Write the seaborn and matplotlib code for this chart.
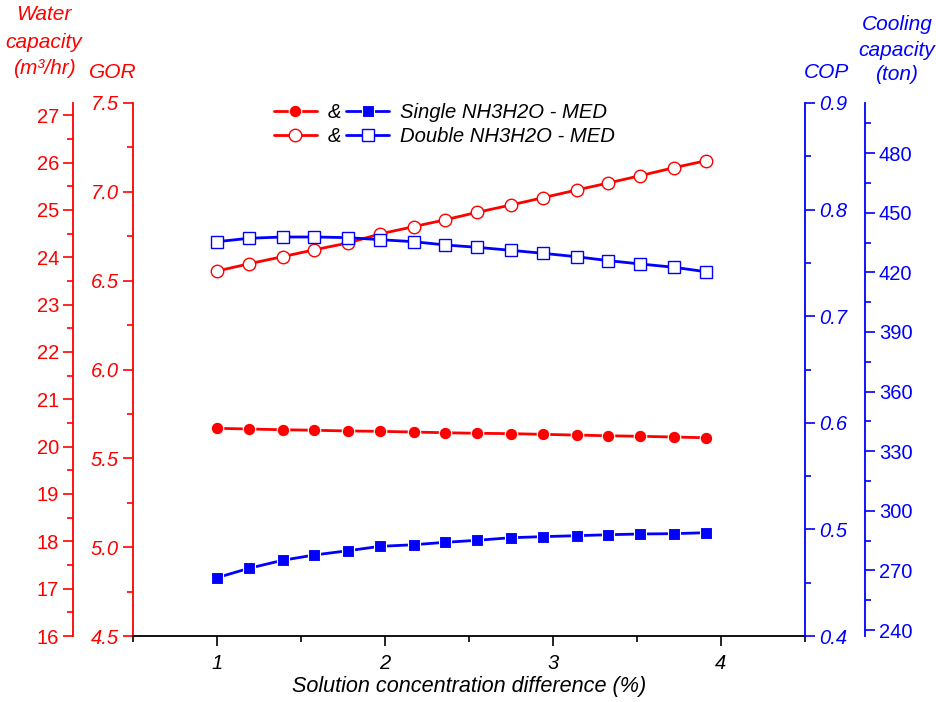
import matplotlib
matplotlib.use("Agg")
import matplotlib.pyplot as plt
import seaborn as sns
import pandas as pd
from matplotlib.ticker import MultipleLocator, FormatStrFormatter, FixedLocator

# ---------------- data ----------------
conc_diff = [1.00, 1.19, 1.39, 1.58, 1.78, 1.97, 2.17, 2.36,
             2.55, 2.75, 2.94, 3.14, 3.33, 3.52, 3.72, 3.91]
gor_single = [5.669, 5.665, 5.661, 5.658, 5.654, 5.652, 5.648, 5.644,
              5.641, 5.639, 5.635, 5.631, 5.627, 5.624, 5.620, 5.616]
gor_double = [6.554, 6.595, 6.635, 6.674, 6.712, 6.763, 6.804, 6.843,
              6.885, 6.926, 6.967, 7.010, 7.050, 7.091, 7.136, 7.175]
cop_single = [0.4547, 0.4635, 0.4710, 0.4760, 0.4800, 0.4841, 0.4856, 0.4879,
              0.4898, 0.4922, 0.4932, 0.4941, 0.4950, 0.4957, 0.4960, 0.4969]
cop_double = [0.7699, 0.7731, 0.7743, 0.7743, 0.7737, 0.7718, 0.7699, 0.7668,
              0.7646, 0.7618, 0.7590, 0.7558, 0.7521, 0.7490, 0.7459, 0.7417]

x_ticks = [1, 2, 3, 4]
water_ticks = [16, 17, 18, 19, 20, 21, 22, 23, 24, 25, 26, 27]
gor_ticks = [4.5, 5.0, 5.5, 6.0, 6.5, 7.0, 7.5]
cop_ticks = [0.4, 0.5, 0.6, 0.7, 0.8, 0.9]
cool_ticks = [240, 270, 300, 330, 360, 390, 420, 450, 480]

series_labels = ["Single NH3H2O - MED", "Double NH3H2O - MED"]
xlabel = "Solution concentration difference (%)"

# ---------------- style ----------------
sns.set_style("ticks")
plt.rcParams["font.family"] = ["Liberation Sans", "DejaVu Sans"]
plt.rcParams["axes.unicode_minus"] = False
plt.rcParams["text.color"] = "black"
plt.rcParams["axes.labelcolor"] = "black"

RED = "#FF0000"
BLUE = "#0000FF"
FS = 14.5      # tick labels
FS_T = 15      # axis titles
FS_L = 14.6    # legend
FS_X = 15.6    # x label

W, H = 937, 702
fig = plt.figure(figsize=(W / 100, H / 100), dpi=100)
L, R, T, B = 133, 805, 103, 636
ax = fig.add_axes([L / W, 1 - B / H, (R - L) / W, (B - T) / H])
ax_w = ax.twinx()
ax_cop = ax.twinx()
ax_cool = ax.twinx()

df = pd.DataFrame({"x": conc_diff, "gs": gor_single, "gd": gor_double,
                   "cs": cop_single, "cd": cop_double})

lw = 2.0
sns.lineplot(data=df, x="x", y="gs", ax=ax, color=RED, marker="o", markersize=9,
             markerfacecolor=RED, markeredgecolor="white", markeredgewidth=0.8,
             linewidth=lw, legend=False, zorder=3)
sns.lineplot(data=df, x="x", y="gd", ax=ax, color=RED, marker="o", markersize=9,
             markerfacecolor="white", markeredgecolor=RED, markeredgewidth=1.0,
             linewidth=lw, legend=False, zorder=3)
sns.lineplot(data=df, x="x", y="cs", ax=ax_cop, color=BLUE, marker="s", markersize=8,
             markerfacecolor=BLUE, markeredgecolor="white", markeredgewidth=0.8,
             linewidth=lw, legend=False, zorder=3)
sns.lineplot(data=df, x="x", y="cd", ax=ax_cop, color=BLUE, marker="s", markersize=8,
             markerfacecolor="white", markeredgecolor=BLUE, markeredgewidth=1.0,
             linewidth=lw, legend=False, zorder=3)

# ---------------- axes limits / ticks ----------------
ax.set_xlim(0.5, 4.5)
ax.set_ylim(4.5, 7.5)
ax_w.set_ylim(16, 27.26)
ax_cop.set_ylim(0.4, 0.9)
ax_cool.set_ylim(237, 505.2)

spine_lw = 1.3
for a in (ax, ax_w, ax_cop, ax_cool):
    for s in a.spines.values():
        s.set_visible(False)
        s.set_linewidth(spine_lw)
    a.set_xlabel("")
    a.set_ylabel("")

# x axis
ax.spines["bottom"].set_visible(True)
ax.spines["bottom"].set_color("black")
ax.xaxis.set_major_locator(FixedLocator(x_ticks))
ax.xaxis.set_minor_locator(MultipleLocator(0.5))
ax.tick_params(axis="x", which="major", direction="out", length=7, width=1.2,
               colors="black", labelsize=FS, pad=6)
ax.tick_params(axis="x", which="minor", direction="out", length=4, width=1.2, colors="black")
for t in ax.get_xticklabels():
    t.set_fontstyle("italic")
ax.set_xlabel(xlabel, fontsize=FS_X, fontstyle="italic", labelpad=2, color="black")

# GOR (inner left)
ax.spines["left"].set_visible(True)
ax.spines["left"].set_color(RED)
ax.yaxis.set_major_locator(FixedLocator(gor_ticks))
ax.yaxis.set_minor_locator(MultipleLocator(0.25))
ax.yaxis.set_major_formatter(FormatStrFormatter("%.1f"))
ax.tick_params(axis="y", which="major", direction="out", length=7, width=1.2,
               colors=RED, labelsize=FS, pad=3)
ax.tick_params(axis="y", which="minor", direction="out", length=4, width=1.2, colors=RED)
for t in ax.get_yticklabels():
    t.set_fontstyle("italic")

# Water capacity (outer left)
ax_w.yaxis.set_ticks_position("left")
ax_w.yaxis.set_label_position("left")
ax_w.spines["left"].set_visible(True)
ax_w.spines["left"].set_position(("axes", -60 / (R - L)))
ax_w.spines["left"].set_color(RED)
ax_w.yaxis.set_major_locator(FixedLocator(water_ticks))
ax_w.yaxis.set_minor_locator(MultipleLocator(0.5))
ax_w.tick_params(axis="y", which="major", direction="out", length=7, width=1.2,
                 colors=RED, labelsize=FS, pad=3)
ax_w.tick_params(axis="y", which="minor", direction="out", length=4, width=1.2, colors=RED)
ax_w.tick_params(axis="x", bottom=False, labelbottom=False)

# COP (inner right)
ax_cop.spines["right"].set_visible(True)
ax_cop.spines["right"].set_color(BLUE)
ax_cop.yaxis.set_major_locator(FixedLocator(cop_ticks))
ax_cop.yaxis.set_minor_locator(MultipleLocator(0.05))
ax_cop.yaxis.set_major_formatter(FormatStrFormatter("%.1f"))
ax_cop.tick_params(axis="y", which="major", direction="out", length=7, width=1.2,
                   colors=BLUE, labelsize=FS, pad=3)
ax_cop.tick_params(axis="y", which="minor", direction="out", length=4, width=1.2, colors=BLUE)
for t in ax_cop.get_yticklabels():
    t.set_fontstyle("italic")
ax_cop.tick_params(axis="x", bottom=False, labelbottom=False)

# Cooling capacity (outer right)
ax_cool.spines["right"].set_visible(True)
ax_cool.spines["right"].set_position(("axes", 1 + 60 / (R - L)))
ax_cool.spines["right"].set_color(BLUE)
ax_cool.yaxis.set_major_locator(FixedLocator(cool_ticks))
ax_cool.yaxis.set_minor_locator(MultipleLocator(15))
ax_cool.tick_params(axis="y", which="major", direction="out", length=7, width=1.2,
                    colors=BLUE, labelsize=FS, pad=3)
ax_cool.tick_params(axis="y", which="minor", direction="out", length=4, width=1.2, colors=BLUE)
ax_cool.tick_params(axis="x", bottom=False, labelbottom=False)

# ---------------- axis titles ----------------
tkw = dict(fontsize=FS_T, fontstyle="italic", ha="center", va="center")
for txt, y in (("Water", 15), ("capacity", 42), ("(m³/hr)", 68)):
    fig.text(44 / W, 1 - y / H, txt, color=RED, **tkw)
fig.text(113 / W, 1 - 72 / H, "GOR", color=RED, **tkw)
fig.text(826 / W, 1 - 72 / H, "COP", color=BLUE, **tkw)
for txt, y in (("Cooling", 25), ("capacity", 50), ("(ton)", 74)):
    fig.text(897 / W, 1 - y / H, txt, color=BLUE, **tkw)

# ---------------- legend ----------------
lines_r = ax.get_lines()
lines_b = ax_cop.get_lines()
handles = [lines_r[0], lines_r[1], lines_b[0], lines_b[1]]
labels = ["&", "&"] + series_labels
leg = ax.legend(handles, labels, ncol=2, loc="upper left",
                bbox_to_anchor=(274 / W, 1 - 103 / H), bbox_transform=fig.transFigure,
                frameon=False, borderpad=0, borderaxespad=0, handlelength=2.1,
                handletextpad=0.55, columnspacing=0.25, labelspacing=0.25,
                prop={"size": FS_L, "style": "italic"})
for t in leg.get_texts():
    t.set_color("black")
leg.set_zorder(10)

fig.savefig("out.png", dpi=100)
